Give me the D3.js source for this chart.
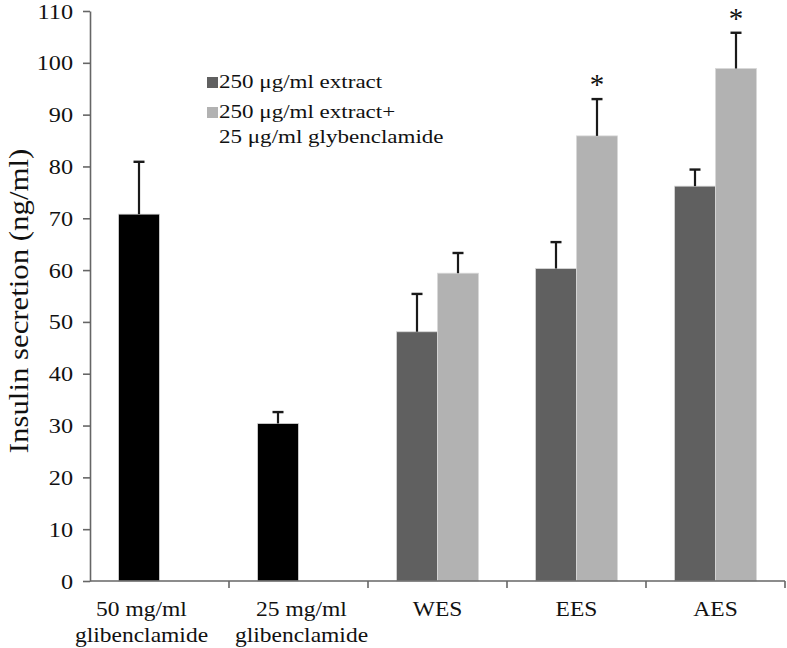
<!DOCTYPE html>
<html><head><meta charset="utf-8">
<script src="https://cdn.jsdelivr.net/npm/d3@7"></script>
<style>body{margin:0;background:#fff}svg{display:block}svg text{font-family:"Liberation Serif","Tinos","DejaVu Serif",serif !important;fill:#111}</style>
</head><body><svg id="c" width="787" height="648"></svg>
<script>
const categories = [["50 mg/ml","glibenclamide"],["25 mg/ml","glibenclamide"],["WES"],["EES"],["AES"]];
const seriesNames = [["250 \u03bcg/ml extract"], ["250 \u03bcg/ml extract+","25 \u03bcg/ml glybenclamide"]];
const extractValues = [70.8, 30.4, 48.1, 60.3, 76.2];
const extractErrors = [10.1, 2.2, 7.3, 5.1, 3.2];
const comboValues = [null, null, 59.4, 85.9, 98.9];
const comboErrors = [null, null, 3.9, 7.1, 6.9];
const comboSignificant = [false, false, false, true, true];
const yTicks = [0,10,20,30,40,50,60,70,80,90,100,110];

const FONT = "'Liberation Serif', Tinos, 'DejaVu Serif', serif";
const svg = d3.select("#c");
const M = {left: 90, right: 785, top: 11, bottom: 581};
const y = d3.scaleLinear().domain([0,110]).range([M.bottom, M.top]);
const x0 = d3.scaleBand().domain(d3.range(categories.length)).range([M.left, M.right]).paddingInner(0).paddingOuter(0);
const x1 = d3.scaleBand().domain([0,1]).range([0, x0.bandwidth()]).paddingInner(0).paddingOuter(0.695);
const blackFill = "#000000", darkFill = "#606060", lightFill = "#b2b2b2";
const labelShift = [-18, 3, 0, 0, 0];

const bars = [];
categories.forEach((c,i)=>{
  bars.push({cat:i, s:0, v:extractValues[i], e:extractErrors[i], fill: i<2?blackFill:darkFill, sig:false});
  if (comboValues[i]!=null) bars.push({cat:i, s:1, v:comboValues[i], e:comboErrors[i], fill: lightFill, sig:comboSignificant[i]});
});

const g = svg.append("g");
g.selectAll("rect.bar").data(bars).join("rect").attr("class","bar")
  .attr("x", d=>x0(d.cat)+x1(d.s)).attr("width", x1.bandwidth())
  .attr("y", d=>y(d.v)).attr("height", d=>y(0)-y(d.v))
  .attr("fill", d=>d.fill).attr("stroke","#d8d8d8").attr("stroke-width",0.8);

const cx = d=>x0(d.cat)+x1(d.s)+x1.bandwidth()/2;
const eb = g.selectAll("g.eb").data(bars).join("g").attr("class","eb");
eb.append("line").attr("x1", cx).attr("x2", cx)
  .attr("y1", d=>y(d.v)).attr("y2", d=>y(d.v+d.e)).attr("stroke","#1a1a1a").attr("stroke-width",2.2);
eb.append("line").attr("x1", d=>cx(d)-5.5).attr("x2", d=>cx(d)+5.5)
  .attr("y1", d=>y(d.v+d.e)).attr("y2", d=>y(d.v+d.e)).attr("stroke","#1a1a1a").attr("stroke-width",2.4);

g.selectAll("text.star").data(bars.filter(d=>d.sig)).join("text").attr("class","star")
  .attr("x", cx).attr("y", d=>y(d.v+d.e)-5)
  .attr("text-anchor","middle").style("font-size","29px").text("*");

const ya = svg.append("g").attr("transform",`translate(${M.left},0)`)
  .call(d3.axisLeft(y).tickValues(yTicks).tickSize(7).tickPadding(10).tickSizeOuter(0));
ya.attr("font-family", FONT);
ya.selectAll("path,line").attr("stroke","#666").attr("stroke-width",1.6);
ya.selectAll("text").style("font-size","22px").attr("fill","#111")
  .attr("x",null).attr("transform","translate(-17,0) scale(1.1,1)");

svg.append("line").attr("x1",M.left).attr("x2",M.right).attr("y1",y(0)).attr("y2",y(0)).attr("stroke","#666").attr("stroke-width",1.6);
svg.selectAll("line.xt").data(d3.range(1,categories.length+1)).join("line").attr("class","xt")
  .attr("x1",i=>M.left+i*x0.step()).attr("x2",i=>M.left+i*x0.step()).attr("y1",y(0)).attr("y2",y(0)+7)
  .attr("stroke","#666").attr("stroke-width",1.6);
const xl = svg.selectAll("text.xl").data(categories).join("text").attr("class","xl")
  .attr("text-anchor","middle").style("font-size","21px")
  .attr("transform",(d,i)=>`translate(${x0(i)+x0.bandwidth()/2+labelShift[i]},${y(0)+35}) scale(1.12,1)`);
xl.selectAll("tspan").data(d=>d).join("tspan").attr("x",0).attr("dy",(d,j)=>j?26:0).text(d=>d);

svg.append("text").attr("transform",`translate(28,${(M.top+M.bottom)/2+5}) rotate(-90) scale(1.1,1)`)
  .attr("text-anchor","middle").style("font-size","28px").text("Insulin secretion (ng/ml)");

const lg = svg.append("g").attr("transform","translate(207,0)");
const legendFills = [darkFill, lightFill];
const legendY = [77, 107];
seriesNames.forEach((lines,i)=>{
  lg.append("rect").attr("x",0).attr("y",legendY[i]).attr("width",11).attr("height",11).attr("fill",legendFills[i]);
  const t = lg.append("text").attr("transform",`translate(12,${legendY[i]+11}) scale(1.28,1)`).style("font-size","18px");
  lines.forEach((line,j)=>t.append("tspan").attr("x",0).attr("dy",j?25:0).text(line));
});
</script></body></html>
